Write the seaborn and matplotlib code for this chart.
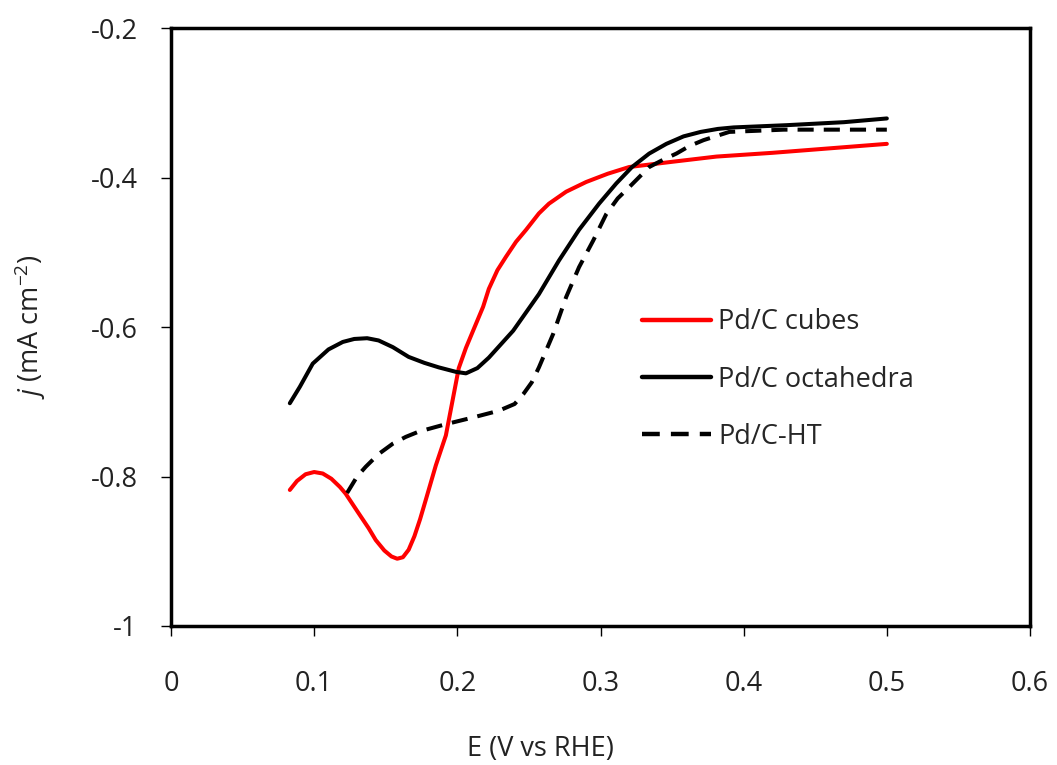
import pandas as pd
import numpy as np
import seaborn as sns
import matplotlib.pyplot as plt

# Pd/C cubes
e_cubes = [0.083, 0.088, 0.094, 0.100, 0.106, 0.112, 0.118, 0.122, 0.131, 0.138,
           0.143, 0.149, 0.154, 0.158, 0.162, 0.166, 0.170, 0.174, 0.178, 0.185,
           0.192, 0.196, 0.201, 0.206, 0.211, 0.218, 0.222, 0.228, 0.234, 0.241,
           0.248, 0.257, 0.264, 0.276, 0.290, 0.305, 0.320, 0.350, 0.381, 0.420,
           0.460, 0.500]
j_cubes = [-0.818, -0.806, -0.797, -0.794, -0.796, -0.803, -0.814, -0.823, -0.849, -0.869,
           -0.885, -0.899, -0.907, -0.910, -0.908, -0.898, -0.880, -0.857, -0.831, -0.785,
           -0.745, -0.705, -0.655, -0.628, -0.605, -0.573, -0.549, -0.524, -0.506, -0.486,
           -0.470, -0.448, -0.435, -0.419, -0.406, -0.395, -0.386, -0.379, -0.372, -0.367,
           -0.361, -0.355]

# Pd/C octahedra
e_octa = [0.083, 0.090, 0.099, 0.110, 0.120, 0.128, 0.137, 0.145, 0.155, 0.166,
          0.177, 0.187, 0.199, 0.206, 0.214, 0.222, 0.239, 0.257, 0.271, 0.285,
          0.299, 0.311, 0.322, 0.334, 0.346, 0.358, 0.370, 0.382, 0.393, 0.430,
          0.470, 0.500]
j_octa = [-0.702, -0.680, -0.649, -0.630, -0.620, -0.616, -0.615, -0.618, -0.627, -0.640,
          -0.648, -0.654, -0.660, -0.662, -0.655, -0.641, -0.605, -0.556, -0.511, -0.470,
          -0.435, -0.408, -0.386, -0.368, -0.355, -0.345, -0.339, -0.335, -0.333, -0.330,
          -0.326, -0.321]

# Pd/C-HT
e_ht = [0.123, 0.130, 0.136, 0.145, 0.155, 0.164, 0.173, 0.192, 0.211, 0.229,
        0.240, 0.246, 0.252, 0.257, 0.267, 0.276, 0.285, 0.295, 0.304, 0.312,
        0.320, 0.334, 0.344, 0.353, 0.362, 0.372, 0.390, 0.428, 0.470, 0.500]
j_ht = [-0.822, -0.800, -0.787, -0.770, -0.756, -0.747, -0.740, -0.730, -0.721, -0.712,
        -0.703, -0.690, -0.674, -0.654, -0.609, -0.560, -0.520, -0.484, -0.449, -0.428,
        -0.413, -0.386, -0.376, -0.368, -0.358, -0.350, -0.339, -0.336, -0.336, -0.336]

labels = ['Pd/C cubes', 'Pd/C octahedra', 'Pd/C-HT']

df = pd.concat([
    pd.DataFrame({'E': e_cubes, 'j': j_cubes, 'sample': labels[0]}),
    pd.DataFrame({'E': e_octa, 'j': j_octa, 'sample': labels[1]}),
    pd.DataFrame({'E': e_ht, 'j': j_ht, 'sample': labels[2]}),
], ignore_index=True)

sns.set_style('white')
plt.rcParams.update({'font.family': 'Open Sans', 'font.size': 19.5,
                     'mathtext.fontset': 'custom', 'mathtext.rm': 'Open Sans',
                     'mathtext.it': 'Open Sans:italic'})

fig = plt.figure(figsize=(10.57, 7.65), dpi=100)
ax = fig.add_axes([171/1057, 1 - 626/765, 859/1057, 598/765])

pal = {labels[0]: '#ff0000', labels[1]: 'black', labels[2]: 'black'}
dash = {labels[0]: '', labels[1]: '', labels[2]: (4, 2.5)}
sns.lineplot(data=df, x='E', y='j', hue='sample', style='sample', palette=pal,
             dashes=dash, sort=False, estimator=None, lw=2.9, ax=ax)

ax.set_xlim(0, 0.6)
ax.set_ylim(-1, -0.2)
ax.set_xticks(np.arange(0, 0.61, 0.1))
ax.set_xticklabels(['0', '0.1', '0.2', '0.3', '0.4', '0.5', '0.6'])
ax.set_yticks(np.arange(-1, -0.19, 0.2))
ax.set_yticklabels(['-1', '-0.8', '-0.6', '-0.4', '-0.2'])

for s in ax.spines.values():
    s.set_visible(True)
    s.set_color('black')
    s.set_linewidth(2.5)
ax.tick_params(axis='both', direction='out', length=7, width=1, color='black',
               labelsize=19.5, colors='#222222')
ax.tick_params(axis='y', pad=17, left=True)
ax.tick_params(axis='x', pad=25, bottom=True)

ax.set_xlabel('E (V vs RHE)', fontsize=19.5, color='#222222')
ax.xaxis.set_label_coords((540 - 171) / 859, -0.183)
ax.set_ylabel(r'$\it{j}$ (mA cm$^{-2}$)', fontsize=19.5, color='#222222')
ax.yaxis.set_label_coords(-0.143, 0.5)

handles, _ = ax.get_legend_handles_labels()
leg = ax.legend(handles=handles, labels=labels, frameon=False, fontsize=19.5,
                loc='upper left', bbox_to_anchor=(0.52, 0.572), handlelength=2.55,
                handletextpad=0.25, labelspacing=1.08)
for h in leg.get_lines():
    h.set_linewidth(3.2)

fig.savefig('out.png', dpi=100)
